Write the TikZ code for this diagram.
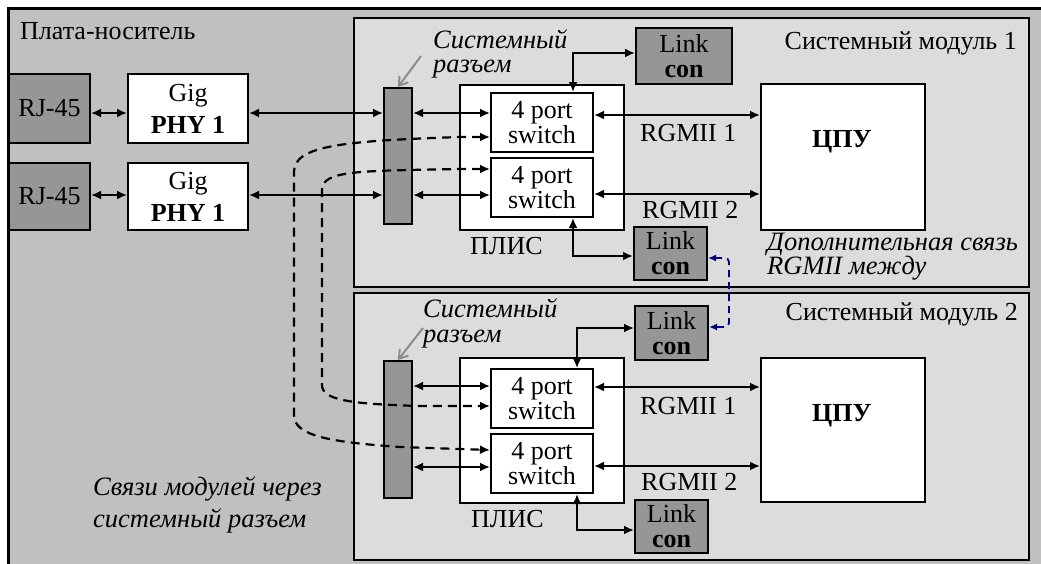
\documentclass[tikz,border=0pt]{standalone}
\usepackage{fontspec}
\setmainfont{Liberation Serif}
\usetikzlibrary{arrows.meta}
\definecolor{boardgray}{HTML}{C0C0C0}
\definecolor{modgray}{HTML}{DCDCDC}
\definecolor{darkbox}{HTML}{969696}
\definecolor{pointergray}{HTML}{8C8C8C}
\definecolor{navylink}{HTML}{000080}
\begin{document}
\begin{tikzpicture}[x=1pt,y=-1pt,
  font=\fontsize{26}{26}\selectfont,
  box/.style={draw, line width=2pt, inner sep=0pt, align=center, anchor=north west, fill=white},
  darkbx/.style={box, fill=darkbox},
  modbox/.style={draw, line width=2pt, inner sep=0pt, anchor=north west, fill=modgray},
  gigtext/.style={font=\fontsize{26}{32}\selectfont},
  swtext/.style={font=\fontsize{26}{23}\selectfont},
  lctext/.style={font=\fontsize{26}{25}\selectfont},
  lbl/.style={inner sep=0pt},
  ilbl/.style={inner sep=0pt, font=\fontsize{26.5}{24}\selectfont\itshape, align=left},
  dbl/.style={line width=2.2pt, {Latex[length=10pt,width=9pt]}-{Latex[length=10pt,width=9pt]}},
  dashlink/.style={line width=2.2pt, dash pattern=on 9pt off 6pt, {Latex[length=10pt,width=9pt]}-{Latex[length=10pt,width=9pt]}},
  bluelink/.style={line width=1.8pt, navylink, dash pattern=on 7pt off 5pt, rounded corners=4pt, {Latex[length=8pt,width=7pt]}-{Latex[length=8pt,width=7pt]}},
  pointer/.style={line width=2pt, pointergray, -{Straight Barb[length=8pt,width=11pt]}}
]
\useasboundingbox (0,0) rectangle (1041,563);
\clip (0,0) rectangle (1041,563);
% board
\path[draw=black, line width=3pt, fill=boardgray] (8,8) rectangle (1090,610);
% modules
\node[modbox, minimum width=675pt, minimum height=269pt] (mod1) at (353,17) {};
\node[modbox, minimum width=675pt, minimum height=267pt] (mod2) at (353,292) {};

% titles
\node[lbl, anchor=base west] (board) at (20,39) {Плата-носитель};
\node[lbl, anchor=base east] (m1title) at (1017,49) {Системный модуль 1};
\node[lbl, anchor=base east] (m2title) at (1018,320) {Системный модуль 2};

% left side
\node[darkbx, minimum width=81pt, minimum height=69pt] (rj1) at (8,73) {RJ-45};
\node[box, gigtext, minimum width=120pt, minimum height=69pt] (gig1) at (127,73) {Gig\\\textbf{PHY 1}};
\node[darkbx, minimum width=81pt, minimum height=67pt] (rj2) at (8,162) {RJ-45};
\node[box, gigtext, minimum width=120pt, minimum height=67pt] (gig2) at (127,162) {Gig\\\textbf{PHY 1}};

% module 1
\node[darkbx, minimum width=28pt, minimum height=136pt] (bar1) at (383,87) {};
\node[box, minimum width=164pt, minimum height=145pt] (plis1) at (459,84) {};
\node[box, swtext, minimum width=102pt, minimum height=59pt] (sw1) at (490,92) {4 port\\switch};
\node[box, swtext, minimum width=102pt, minimum height=59pt] (sw2) at (490,157) {4 port\\switch};
\node[darkbx, lctext, minimum width=96pt, minimum height=56pt] (lc1a) at (635,27) {Link\\\textbf{con}};
\node[darkbx, lctext, minimum width=73pt, minimum height=53pt] (lc1b) at (633,226) {Link\\\textbf{con}};
\node[box, minimum width=164pt, minimum height=146pt] (cpu1) at (760,83) {};
\node[lbl, anchor=base] (cpu1lbl) at (842,147) {\textbf{ЦПУ}};
\node[lbl, anchor=base west] (plis1lbl) at (470,254) {ПЛИС};
\node[lbl, anchor=base west] (rg11) at (640,141) {RGMII 1};
\node[lbl, anchor=base west] (rg12) at (642,218) {RGMII 2};
\node[ilbl, anchor=base west] (sc1) at (433,72) {Системный\\разъем};
\node[ilbl, anchor=base west] (extra) at (767,274) {Дополнительная связь\\RGMII между};
\coordinate (p1) at (421,56);

% module 2
\node[darkbx, minimum width=28pt, minimum height=137pt] (bar2) at (383,360) {};
\node[box, minimum width=164pt, minimum height=145pt] (plis2) at (459,357) {};
\node[box, swtext, minimum width=102pt, minimum height=59pt] (sw3) at (490,368) {4 port\\switch};
\node[box, swtext, minimum width=102pt, minimum height=59pt] (sw4) at (490,433) {4 port\\switch};
\node[darkbx, lctext, minimum width=73pt, minimum height=54pt] (lc2a) at (634,305) {Link\\\textbf{con}};
\node[darkbx, lctext, minimum width=73pt, minimum height=53pt] (lc2b) at (634,499) {Link\\\textbf{con}};
\node[box, minimum width=164pt, minimum height=144pt] (cpu2) at (760,357) {};
\node[lbl, anchor=base] (cpu2lbl) at (842,421) {\textbf{ЦПУ}};
\node[lbl, anchor=base west] (plis2lbl) at (471,527) {ПЛИС};
\node[lbl, anchor=base west] (rg21) at (640,414) {RGMII 1};
\node[lbl, anchor=base west] (rg22) at (641,490) {RGMII 2};
\node[ilbl, anchor=base west, font=\fontsize{26.5}{25}\selectfont\itshape] (sc2) at (423,342) {Системный\\разъем};
\coordinate (p2) at (423,328);

\node[ilbl, anchor=base west, font=\fontsize{26.5}{32}\selectfont\itshape] (note) at (93,527) {Связи модулей через\\системный разъем};

% pointers
\draw[pointer] (p1) -- (bar1.north);
\draw[pointer] (p2) -- (bar2.north);

% dashed module links
\draw[dashlink] (sw1.west |- 0,137) -- (460,137) .. controls (340,141) and (294,146) .. (294,172) -- (294,415) .. controls (294,436) and (330,442) .. (400,447) -- (sw4.west |- 0,450);
\draw[dashlink] (sw2.west |- 0,169) -- (460,169) .. controls (360,171) and (322,170) .. (322,190) -- (322,385) .. controls (322,400) and (350,404) .. (420,406) -- (sw3.west |- 0,406);

% module 1 arrows
\draw[dbl] (rj1.east |- 0,113) -- (gig1.west |- 0,113);
\draw[dbl] (gig1.east |- 0,113) -- (bar1.west |- 0,113);
\draw[dbl] (rj2.east |- 0,195) -- (gig2.west |- 0,195);
\draw[dbl] (gig2.east |- 0,195) -- (bar1.west |- 0,195);
\draw[dbl] (bar1.east |- 0,113) -- (sw1.west |- 0,113);
\draw[dbl] (bar1.east |- 0,195) -- (sw2.west |- 0,195);
\draw[dbl] (sw1.east |- 0,115) -- (cpu1.west |- 0,115);
\draw[dbl] (sw2.east |- 0,194) -- (cpu1.west |- 0,194);
\draw[dbl] (sw1.north -| 573,0) -- (573,53) -- (lc1a.west |- 0,53);
\draw[dbl] (sw2.south -| 573,0) -- (573,256) -- (lc1b.west |- 0,256);

% module 2 arrows
\draw[dbl] (bar2.east |- 0,386) -- (sw3.west |- 0,386);
\draw[dbl] (bar2.east |- 0,467) -- (sw4.west |- 0,467);
\draw[dbl] (sw3.east |- 0,387) -- (cpu2.west |- 0,387);
\draw[dbl] (sw4.east |- 0,466) -- (cpu2.west |- 0,466);
\draw[dbl] (sw3.north -| 577,0) -- (577,328) -- (lc2a.west |- 0,328);
\draw[dbl] (sw4.south -| 577,0) -- (577,530) -- (lc2b.west |- 0,530);

% blue extra link
\draw[bluelink] (lc1b.east |- 0,258) -- (729,258) -- (729,327) -- (lc2a.east |- 0,327);
\end{tikzpicture}
\end{document}
